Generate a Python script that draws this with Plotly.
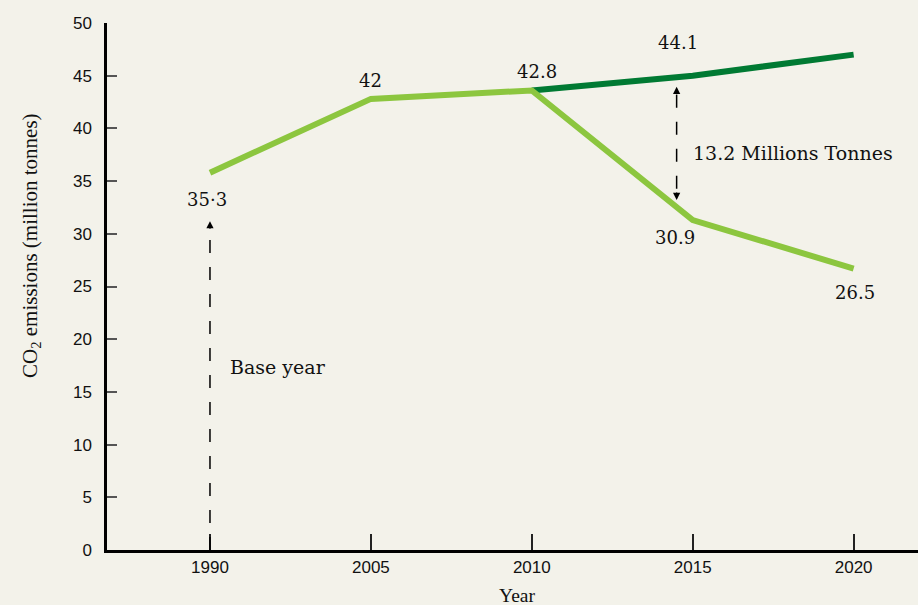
import plotly.graph_objects as go

years = ["1990", "2005", "2010", "2015", "2020"]
# plotted positions
baseline = [35.8, 42.8, 43.6, 45.0, 47.0]          # dark green (no action)
reduced = [35.8, 42.8, 43.6, 31.3, 26.7]           # light green (with measures)
# printed data labels
label_text = ["35·3", "42", "42.8", "44.1", "30.9", "26.5"]

xi = list(range(len(years)))

LIGHT = "#8cc63f"
DARK = "#007a33"
BG = "#f3f2ea"
TSERIF = "Liberation Serif, Times New Roman, serif"
GSERIF = "DejaVu Serif, Georgia, serif"
SANS = "Liberation Sans, Arial, sans-serif"

W, H, L, R, T, B = 918, 605, 107, 0, 23, 55
pw, ph = W - L - R, H - T - B

fig = go.Figure()
fig.add_trace(go.Scatter(x=xi[2:], y=baseline[2:], mode="lines",
                         line=dict(color=DARK, width=6), hoverinfo="skip"))
fig.add_trace(go.Scatter(x=xi, y=reduced, mode="lines",
                         line=dict(color=LIGHT, width=6), hoverinfo="skip"))

# dashed guide lines
fig.add_shape(type="line", xref="x", yref="y", x0=0, x1=0, y0=0, y1=30.4,
              line=dict(color="black", width=1.5, dash="13px,14px"))
fig.add_shape(type="line", xref="x", yref="y", x0=2.9, x1=2.9, y0=43.2, y1=33.9,
              line=dict(color="black", width=1.5, dash="13px,14px"))

# arrowheads
for x, y, ay in [(0, 31.2, 9), (2.9, 43.95, 9), (2.9, 33.2, -9)]:
    fig.add_annotation(x=x, y=y, xref="x", yref="y", text="", showarrow=True,
                       ax=0, ay=ay, arrowhead=2, arrowsize=1.2, arrowwidth=1.2,
                       arrowcolor="black")

# data labels: (x index, y value, xshift, yshift)
lab_pos = [(0, reduced[0], -3, -27), (1, reduced[1], 0, 18), (2, reduced[2], 5, 19),
           (3, baseline[3], -15, 33), (3, reduced[3], -18, -17), (4, reduced[4], 1, -24)]
for (x, y, dx, dy), t in zip(lab_pos, label_text):
    fig.add_annotation(x=x, y=y, xref="x", yref="y", text=t, showarrow=False,
                       xshift=dx, yshift=dy,
                       font=dict(family=GSERIF, size=18, color="#111"))

fig.add_annotation(x=3, y=37.67, xref="x", yref="y", text="13.2 Millions Tonnes",
                   showarrow=False, xanchor="left", xshift=-2,
                   font=dict(family=GSERIF, size=19, color="#111"))
fig.add_annotation(x=0, y=17.36, xref="x", yref="y", text="Base year",
                   showarrow=False, xanchor="left", xshift=18,
                   font=dict(family=GSERIF, size=19, color="#111"))

# axis titles (placed by pixel position converted to paper coords)
fig.add_annotation(x=(31 - L) / pw, y=(H - B - 246) / ph, xref="paper", yref="paper",
                   xanchor="center", yanchor="middle",
                   text="CO<sub>2</sub> emissions (million tonnes)",
                   showarrow=False, textangle=-90,
                   font=dict(family=TSERIF, size=21, color="#111"))
fig.add_annotation(x=(517 - L) / pw, y=(H - B - 595) / ph, xref="paper", yref="paper",
                   xanchor="center", yanchor="middle",
                   text="Year", showarrow=False,
                   font=dict(family=TSERIF, size=19.5, color="#111"))

fig.update_layout(
    width=W, height=H,
    margin=dict(l=L, r=R, t=T, b=B),
    paper_bgcolor=BG, plot_bgcolor=BG,
    showlegend=False,
    xaxis=dict(range=[-0.64, 4.4], tickmode="array", tickvals=xi, ticktext=years,
               showgrid=False, zeroline=False, showline=True, linecolor="black",
               linewidth=2.5, ticks="inside", ticklen=16, tickwidth=1.5,
               tickcolor="#222", tickfont=dict(family=SANS, size=17, color="#111"),
               fixedrange=True),
    yaxis=dict(range=[0, 50], tickmode="array", tickvals=list(range(0, 51, 5)),
               showgrid=False, zeroline=False, showline=True, linecolor="black",
               linewidth=2.5, ticks="inside", ticklen=10, tickwidth=2,
               tickcolor="#555", tickfont=dict(family=SANS, size=17, color="#111"),
               ticklabelstandoff=9, fixedrange=True),
)

fig.write_html("out.html", config={"displayModeBar": False},
               post_script="document.body.style.margin='0';document.body.style.overflow='hidden';")
